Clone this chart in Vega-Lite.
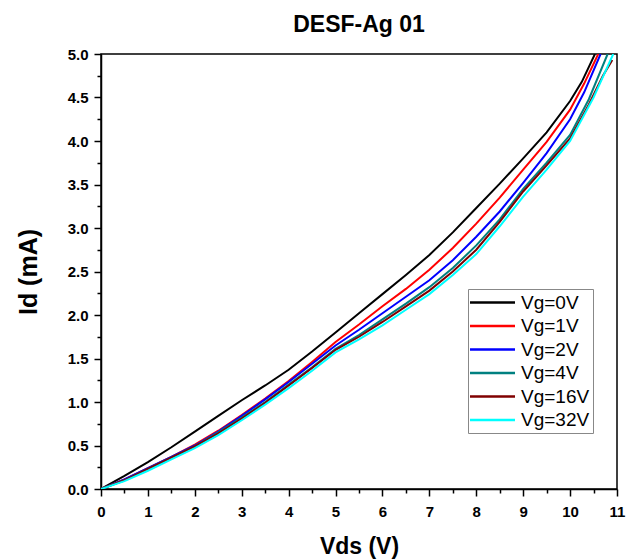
{
  "$schema": "https://vega.github.io/schema/vega-lite/v6.json",
  "width": 516,
  "height": 435,
  "autosize": "none",
  "padding": {"left": 101, "top": 54, "right": 9, "bottom": 71},
  "background": "white",
  "title": {"text": "DESF-Ag 01", "font": "Liberation Sans", "fontSize": 23, "fontWeight": "bold", "color": "black", "offset": 10, "anchor": "middle"},
  "config": {
    "view": {"stroke": "black", "strokeWidth": 1.5},
    "axis": {"grid": false, "domainColor": "black", "domainWidth": 1.5, "tickColor": "black", "tickWidth": 1.5, "labelFont": "Liberation Sans", "labelFontWeight": "bold", "labelFontSize": 15, "labelColor": "black", "labelOverlap": false, "labelFlush": false, "titleFont": "Liberation Sans", "titleFontWeight": "bold", "titleFontSize": 23, "titleColor": "black"}
  },
  "datasets": {
    "iv": [
      {"Vg": "Vg=0V", "Vds": 0, "Id": 0}, {"Vg": "Vg=0V", "Vds": 0.5, "Id": 0.15}, {"Vg": "Vg=0V", "Vds": 1, "Id": 0.31}, {"Vg": "Vg=0V", "Vds": 1.5, "Id": 0.48}, {"Vg": "Vg=0V", "Vds": 2, "Id": 0.66}, {"Vg": "Vg=0V", "Vds": 2.5, "Id": 0.84}, {"Vg": "Vg=0V", "Vds": 3, "Id": 1.02}, {"Vg": "Vg=0V", "Vds": 3.5, "Id": 1.19}, {"Vg": "Vg=0V", "Vds": 4, "Id": 1.37}, {"Vg": "Vg=0V", "Vds": 4.5, "Id": 1.58}, {"Vg": "Vg=0V", "Vds": 5, "Id": 1.8}, {"Vg": "Vg=0V", "Vds": 5.5, "Id": 2.02}, {"Vg": "Vg=0V", "Vds": 6, "Id": 2.24}, {"Vg": "Vg=0V", "Vds": 6.5, "Id": 2.46}, {"Vg": "Vg=0V", "Vds": 7, "Id": 2.69}, {"Vg": "Vg=0V", "Vds": 7.5, "Id": 2.95}, {"Vg": "Vg=0V", "Vds": 8, "Id": 3.23}, {"Vg": "Vg=0V", "Vds": 8.5, "Id": 3.51}, {"Vg": "Vg=0V", "Vds": 9, "Id": 3.8}, {"Vg": "Vg=0V", "Vds": 9.5, "Id": 4.1}, {"Vg": "Vg=0V", "Vds": 10, "Id": 4.46}, {"Vg": "Vg=0V", "Vds": 10.25, "Id": 4.68}, {"Vg": "Vg=0V", "Vds": 10.53, "Id": 5.0},
      {"Vg": "Vg=1V", "Vds": 0, "Id": 0}, {"Vg": "Vg=1V", "Vds": 0.5, "Id": 0.11}, {"Vg": "Vg=1V", "Vds": 1, "Id": 0.24}, {"Vg": "Vg=1V", "Vds": 1.5, "Id": 0.37}, {"Vg": "Vg=1V", "Vds": 2, "Id": 0.51}, {"Vg": "Vg=1V", "Vds": 2.5, "Id": 0.67}, {"Vg": "Vg=1V", "Vds": 3, "Id": 0.85}, {"Vg": "Vg=1V", "Vds": 3.5, "Id": 1.04}, {"Vg": "Vg=1V", "Vds": 4, "Id": 1.24}, {"Vg": "Vg=1V", "Vds": 4.5, "Id": 1.46}, {"Vg": "Vg=1V", "Vds": 5, "Id": 1.69}, {"Vg": "Vg=1V", "Vds": 5.5, "Id": 1.89}, {"Vg": "Vg=1V", "Vds": 6, "Id": 2.1}, {"Vg": "Vg=1V", "Vds": 6.5, "Id": 2.3}, {"Vg": "Vg=1V", "Vds": 7, "Id": 2.52}, {"Vg": "Vg=1V", "Vds": 7.5, "Id": 2.77}, {"Vg": "Vg=1V", "Vds": 8, "Id": 3.05}, {"Vg": "Vg=1V", "Vds": 8.5, "Id": 3.35}, {"Vg": "Vg=1V", "Vds": 9, "Id": 3.67}, {"Vg": "Vg=1V", "Vds": 9.5, "Id": 3.99}, {"Vg": "Vg=1V", "Vds": 10, "Id": 4.36}, {"Vg": "Vg=1V", "Vds": 10.3, "Id": 4.66}, {"Vg": "Vg=1V", "Vds": 10.6, "Id": 5.0},
      {"Vg": "Vg=2V", "Vds": 0, "Id": 0}, {"Vg": "Vg=2V", "Vds": 0.5, "Id": 0.11}, {"Vg": "Vg=2V", "Vds": 1, "Id": 0.24}, {"Vg": "Vg=2V", "Vds": 1.5, "Id": 0.37}, {"Vg": "Vg=2V", "Vds": 2, "Id": 0.5}, {"Vg": "Vg=2V", "Vds": 2.5, "Id": 0.66}, {"Vg": "Vg=2V", "Vds": 3, "Id": 0.84}, {"Vg": "Vg=2V", "Vds": 3.5, "Id": 1.03}, {"Vg": "Vg=2V", "Vds": 4, "Id": 1.23}, {"Vg": "Vg=2V", "Vds": 4.5, "Id": 1.44}, {"Vg": "Vg=2V", "Vds": 5, "Id": 1.65}, {"Vg": "Vg=2V", "Vds": 5.5, "Id": 1.83}, {"Vg": "Vg=2V", "Vds": 6, "Id": 2.02}, {"Vg": "Vg=2V", "Vds": 6.5, "Id": 2.21}, {"Vg": "Vg=2V", "Vds": 7, "Id": 2.4}, {"Vg": "Vg=2V", "Vds": 7.5, "Id": 2.63}, {"Vg": "Vg=2V", "Vds": 8, "Id": 2.9}, {"Vg": "Vg=2V", "Vds": 8.5, "Id": 3.19}, {"Vg": "Vg=2V", "Vds": 9, "Id": 3.52}, {"Vg": "Vg=2V", "Vds": 9.5, "Id": 3.86}, {"Vg": "Vg=2V", "Vds": 10, "Id": 4.25}, {"Vg": "Vg=2V", "Vds": 10.3, "Id": 4.56}, {"Vg": "Vg=2V", "Vds": 10.65, "Id": 5.0},
      {"Vg": "Vg=4V", "Vds": 0, "Id": 0}, {"Vg": "Vg=4V", "Vds": 0.5, "Id": 0.1}, {"Vg": "Vg=4V", "Vds": 1, "Id": 0.23}, {"Vg": "Vg=4V", "Vds": 1.5, "Id": 0.36}, {"Vg": "Vg=4V", "Vds": 2, "Id": 0.49}, {"Vg": "Vg=4V", "Vds": 2.5, "Id": 0.65}, {"Vg": "Vg=4V", "Vds": 3, "Id": 0.82}, {"Vg": "Vg=4V", "Vds": 3.5, "Id": 1.0}, {"Vg": "Vg=4V", "Vds": 4, "Id": 1.2}, {"Vg": "Vg=4V", "Vds": 4.5, "Id": 1.4}, {"Vg": "Vg=4V", "Vds": 5, "Id": 1.61}, {"Vg": "Vg=4V", "Vds": 5.5, "Id": 1.77}, {"Vg": "Vg=4V", "Vds": 6, "Id": 1.95}, {"Vg": "Vg=4V", "Vds": 6.5, "Id": 2.13}, {"Vg": "Vg=4V", "Vds": 7, "Id": 2.32}, {"Vg": "Vg=4V", "Vds": 7.5, "Id": 2.54}, {"Vg": "Vg=4V", "Vds": 8, "Id": 2.8}, {"Vg": "Vg=4V", "Vds": 8.5, "Id": 3.1}, {"Vg": "Vg=4V", "Vds": 9, "Id": 3.45}, {"Vg": "Vg=4V", "Vds": 9.5, "Id": 3.75}, {"Vg": "Vg=4V", "Vds": 10, "Id": 4.07}, {"Vg": "Vg=4V", "Vds": 10.4, "Id": 4.48}, {"Vg": "Vg=4V", "Vds": 10.8, "Id": 5.0},
      {"Vg": "Vg=16V", "Vds": 0, "Id": 0}, {"Vg": "Vg=16V", "Vds": 0.5, "Id": 0.1}, {"Vg": "Vg=16V", "Vds": 1, "Id": 0.23}, {"Vg": "Vg=16V", "Vds": 1.5, "Id": 0.36}, {"Vg": "Vg=16V", "Vds": 2, "Id": 0.49}, {"Vg": "Vg=16V", "Vds": 2.5, "Id": 0.64}, {"Vg": "Vg=16V", "Vds": 3, "Id": 0.81}, {"Vg": "Vg=16V", "Vds": 3.5, "Id": 0.99}, {"Vg": "Vg=16V", "Vds": 4, "Id": 1.19}, {"Vg": "Vg=16V", "Vds": 4.5, "Id": 1.39}, {"Vg": "Vg=16V", "Vds": 5, "Id": 1.6}, {"Vg": "Vg=16V", "Vds": 5.5, "Id": 1.75}, {"Vg": "Vg=16V", "Vds": 6, "Id": 1.92}, {"Vg": "Vg=16V", "Vds": 6.5, "Id": 2.1}, {"Vg": "Vg=16V", "Vds": 7, "Id": 2.28}, {"Vg": "Vg=16V", "Vds": 7.5, "Id": 2.5}, {"Vg": "Vg=16V", "Vds": 8, "Id": 2.75}, {"Vg": "Vg=16V", "Vds": 8.5, "Id": 3.07}, {"Vg": "Vg=16V", "Vds": 9, "Id": 3.42}, {"Vg": "Vg=16V", "Vds": 9.5, "Id": 3.72}, {"Vg": "Vg=16V", "Vds": 10, "Id": 4.03}, {"Vg": "Vg=16V", "Vds": 10.4, "Id": 4.42}, {"Vg": "Vg=16V", "Vds": 10.7, "Id": 4.75}, {"Vg": "Vg=16V", "Vds": 10.9, "Id": 4.93},
      {"Vg": "Vg=32V", "Vds": 0, "Id": 0}, {"Vg": "Vg=32V", "Vds": 0.5, "Id": 0.09}, {"Vg": "Vg=32V", "Vds": 1, "Id": 0.21}, {"Vg": "Vg=32V", "Vds": 1.5, "Id": 0.34}, {"Vg": "Vg=32V", "Vds": 2, "Id": 0.47}, {"Vg": "Vg=32V", "Vds": 2.5, "Id": 0.62}, {"Vg": "Vg=32V", "Vds": 3, "Id": 0.79}, {"Vg": "Vg=32V", "Vds": 3.5, "Id": 0.97}, {"Vg": "Vg=32V", "Vds": 4, "Id": 1.16}, {"Vg": "Vg=32V", "Vds": 4.5, "Id": 1.36}, {"Vg": "Vg=32V", "Vds": 5, "Id": 1.57}, {"Vg": "Vg=32V", "Vds": 5.5, "Id": 1.72}, {"Vg": "Vg=32V", "Vds": 6, "Id": 1.88}, {"Vg": "Vg=32V", "Vds": 6.5, "Id": 2.06}, {"Vg": "Vg=32V", "Vds": 7, "Id": 2.24}, {"Vg": "Vg=32V", "Vds": 7.5, "Id": 2.46}, {"Vg": "Vg=32V", "Vds": 8, "Id": 2.7}, {"Vg": "Vg=32V", "Vds": 8.5, "Id": 3.02}, {"Vg": "Vg=32V", "Vds": 9, "Id": 3.36}, {"Vg": "Vg=32V", "Vds": 9.5, "Id": 3.67}, {"Vg": "Vg=32V", "Vds": 10, "Id": 4.0}, {"Vg": "Vg=32V", "Vds": 10.5, "Id": 4.5}, {"Vg": "Vg=32V", "Vds": 10.92, "Id": 5.0}
    ]
  },
  "data": {"name": "iv"},
  "resolve": {"axis": {"x": "independent", "y": "independent"}},
  "layer": [
    {
      "mark": {"type": "line", "strokeWidth": 2, "clip": true},
      "encoding": {
        "x": {"field": "Vds", "type": "quantitative", "scale": {"domain": [0, 11], "nice": false, "zero": true},
              "axis": {"orient": "bottom", "title": "Vds (V)", "values": [0,1,2,3,4,5,6,7,8,9,10,11], "tickSize": 7, "labelPadding": 8, "titlePadding": 16}},
        "y": {"field": "Id", "type": "quantitative", "scale": {"domain": [0, 5], "nice": false},
              "axis": {"orient": "left", "title": "Id (mA)", "titleFontSize": 25, "values": [0,0.5,1,1.5,2,2.5,3,3.5,4,4.5,5], "format": ".1f", "tickSize": 7, "labelPadding": 6, "titlePadding": 26}},
        "color": {"field": "Vg", "type": "nominal", "sort": null,
                  "scale": {"domain": ["Vg=0V", "Vg=1V", "Vg=2V", "Vg=4V", "Vg=16V", "Vg=32V"], "range": ["#000000", "#ff0000", "#0000ff", "#008080", "#800000", "#00ffff"]},
                  "legend": {"title": null, "orient": "none", "legendX": 367, "legendY": 235, "symbolType": "M-2.5,0H2.5", "symbolSize": 324, "symbolStrokeWidth": 2.5, "symbolOffset": 11, "labelOffset": 18, "labelFont": "Liberation Sans", "labelFontSize": 19, "labelColor": "black", "strokeColor": "#888888", "padding": 3, "rowPadding": 2.5, "fillColor": "white"}}
      }
    },
    {
      "mark": {"type": "point", "opacity": 0},
      "encoding": {
        "x": {"field": "Vds", "type": "quantitative",
              "axis": {"orient": "bottom", "title": null, "values": [0.5,1.5,2.5,3.5,4.5,5.5,6.5,7.5,8.5,9.5,10.5], "labels": false, "domain": false, "tickSize": 4}},
        "y": {"field": "Id", "type": "quantitative",
              "axis": {"orient": "left", "title": null, "values": [0.25,0.75,1.25,1.75,2.25,2.75,3.25,3.75,4.25,4.75], "labels": false, "domain": false, "tickSize": 4}}
      }
    }
  ]
}
